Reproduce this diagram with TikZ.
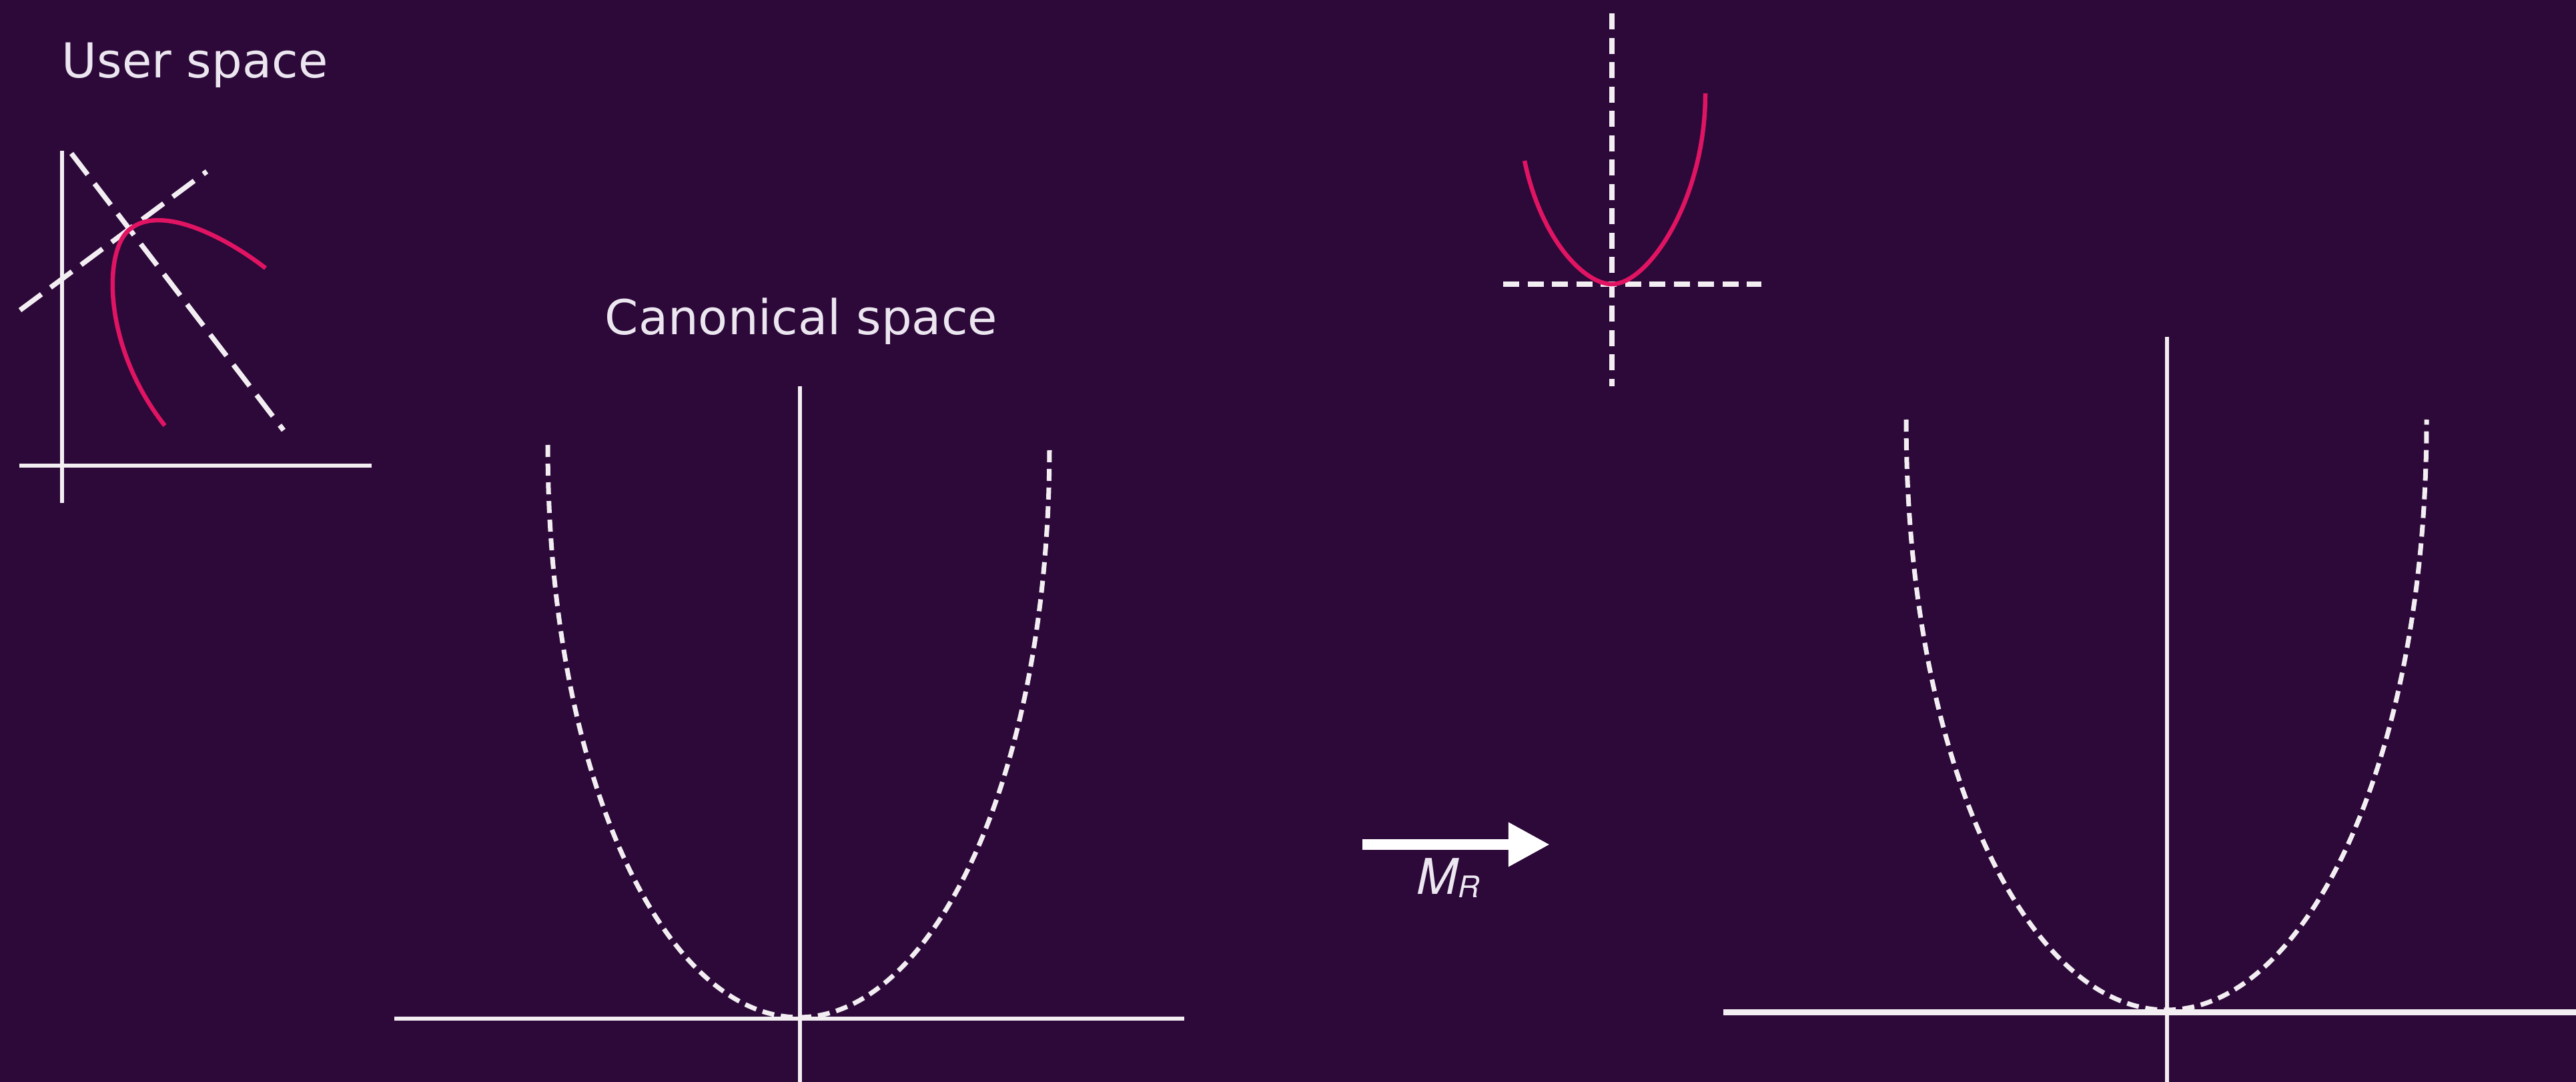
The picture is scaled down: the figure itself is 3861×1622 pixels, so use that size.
\documentclass[tikz,border=0pt]{standalone}
\usepackage{fontspec}
\setmainfont{DejaVu Sans}
\newfontfamily\labelfont{TeX Gyre Heros}
\usetikzlibrary{arrows.meta}

\definecolor{bgpurple}{RGB}{45,9,58}
\definecolor{curvepink}{RGB}{224,20,98}
\definecolor{axiswhite}{RGB}{242,238,242}
\definecolor{labelwhite}{RGB}{236,230,240}

\begin{document}
\begin{tikzpicture}[x=0.01cm,y=-0.01cm,
    axis/.style={axiswhite, line width=0.065cm},
    guide/.style={axiswhite, line width=0.075cm, dash pattern=on 0.4cm off 0.17cm},
    shortdash/.style={axiswhite, line width=0.08cm, dash pattern=on 0.24cm off 0.125cm},
    fine/.style={axiswhite, line width=0.07cm, dash pattern=on 0.18cm off 0.1cm},
    curve/.style={curvepink, line width=0.065cm},
    title/.style={labelwhite, font=\fontsize{20.5}{24}\selectfont, inner sep=0pt, anchor=base west}]

\fill[bgpurple] (0,0) rectangle (3861,1622);
\useasboundingbox (0,0) rectangle (3861,1622);

% user space
\node[title] (user) at (92,117) {User space};
\draw[axis] (93,226) -- (93,754);
\draw[axis] (29,698) -- (557,698);
\draw[guide] (107,230) -- (425,645);
\draw[guide] (30,465) -- (310,257);
\draw[curve] (398,402) .. controls (335,353) and (238,305) .. (193,345)
    .. controls (155,378) and (154,520) .. (247,638);

% canonical space
\node[title] (canon) at (906,502) {Canonical space};
\draw[axis] (1199,579) -- (1199,1622);
\draw[axis] (591,1527) -- (1775,1527);
\draw[fine] (821,667) .. controls (821,1167) and (997,1525) .. (1197,1525)
    .. controls (1397,1525) and (1573,1167) .. (1573,667);

% small rotated copy
\draw[shortdash] (2416,20) -- (2416,579);
\draw[shortdash] (2253,426) -- (2640,426);
\draw[curve] (2285,241) .. controls (2310,360) and (2375,426) .. (2416,426)
    .. controls (2470,426) and (2556,300) .. (2556,140);

% M_R
\coordinate (mrtail) at (2042,1266);
\coordinate (mrhead) at (2323,1266);
\draw[white, line width=0.16cm, -{Triangle[length=0.62cm,width=0.62cm]}] (mrtail) -- (mrhead);
\node[labelwhite, inner sep=0pt, anchor=base west, font=\labelfont\itshape\fontsize{21}{24}\selectfont] (mr) at (2123,1340) {M\raisebox{-0.05cm}{\fontsize{12.7}{14}\selectfont R}};

% result
\draw[axis] (3248,505) -- (3248,1622);
\draw[axis, line width=0.09cm] (2583,1517) -- (3861,1517);
\draw[fine] (2857,629) .. controls (2857,1145) and (3040,1514) .. (3247,1514)
    .. controls (3454,1514) and (3637,1145) .. (3637,629);
\end{tikzpicture}
\end{document}
